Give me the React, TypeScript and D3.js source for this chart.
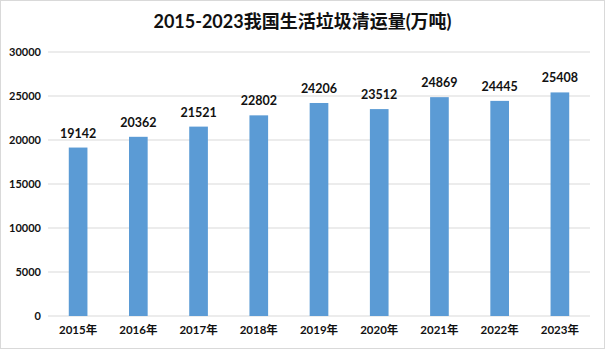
import React from "react";
import * as d3 from "d3";

const categories = ["2015年", "2016年", "2017年", "2018年", "2019年", "2020年", "2021年", "2022年", "2023年"];
const values = [19142, 20362, 21521, 22802, 24206, 23512, 24869, 24445, 25408];
const yTicks = [0, 5000, 10000, 15000, 20000, 25000, 30000];
const title = "2015-2023我国生活垃圾清运量(万吨)";

export default function App() {
  const W = 605, H = 349;
  const left = 48, right = 590, top = 52, bottom = 316;
  const x = d3.scaleBand<string>().domain(categories).range([left, right]).paddingInner(0.69).paddingOuter(0.345);
  const y = d3.scaleLinear().domain([0, 30000]).range([bottom, top]);
  const font = "Lato, 'Noto Sans CJK SC', sans-serif";
  return (
    <svg width={W} height={H} style={{ position: "absolute", left: 0, top: 0 }} fontFamily={font}>
      <rect x={0.5} y={0.5} width={W - 1} height={H - 1} fill="#fff" stroke="#d9d9d9" />
      <text x={W / 2} y={28} textAnchor="middle" fontSize={18} fontWeight="bold" fill="#111">{title}</text>
      {yTicks.map((t) => (
        <g key={t}>
          <line x1={left} x2={right} y1={y(t)} y2={y(t)} stroke="#d9d9d9" strokeWidth={1} />
          <text x={41} y={y(t) + 4} textAnchor="end" fontSize={11} fontWeight="bold" fill="#111">{t}</text>
        </g>
      ))}
      {categories.map((c, i) => (
        <g key={c}>
          <rect x={x(c)} y={y(values[i])} width={x.bandwidth()} height={bottom - y(values[i])} fill="#5b9bd5" />
          <text x={(x(c) as number) + x.bandwidth() / 2} y={y(values[i]) - 10} textAnchor="middle" fontSize={12.5} fontWeight="bold" fill="#111">{values[i]}</text>
          <text x={(x(c) as number) + x.bandwidth() / 2} y={334} textAnchor="middle" fontSize={11.5} fontWeight="bold" fill="#111">{c}</text>
        </g>
      ))}
    </svg>
  );
}
